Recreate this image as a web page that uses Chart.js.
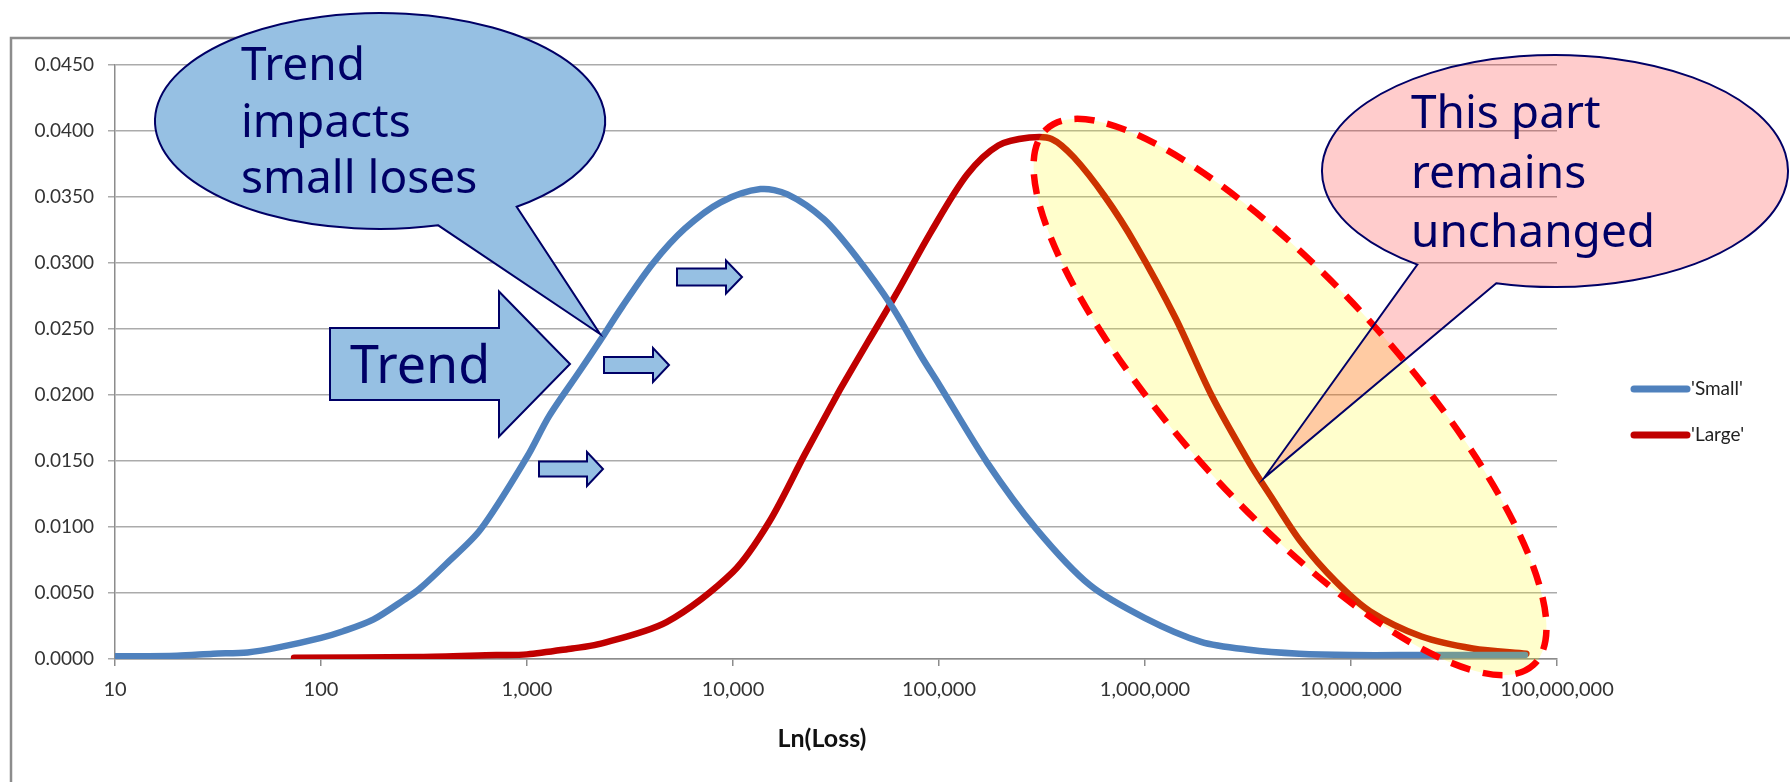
<!DOCTYPE html>
<html>
<head>
<meta charset="utf-8">
<script src="https://cdn.jsdelivr.net/npm/chart.js@4.4.1/dist/chart.umd.min.js"></script>
<style>
  html, body { margin: 0; padding: 0; background: #fff; }
  #wrap { width: 1790px; height: 782px; position: relative; }
</style>
</head>
<body>
<div id="wrap"><canvas id="lossChart"></canvas></div>
<script>
// series (loss on a log axis, density on the y axis)
const seriesNames = ["'Small'", "'Large'"];
const smallLoss = [10, 20, 30, 44, 63, 100, 128, 180, 254, 300, 405, 594, 1000, 1280, 1800, 2260, 2900, 4100, 5830, 8700, 13600, 18400, 27700, 40000, 58600, 83000, 100000, 171000, 295000, 540000, 1000000, 1870000, 3200000, 5600000, 10000000, 22000000, 70000000];
const smallDensity = [0.0002, 0.00025, 0.0004, 0.0005, 0.0009, 0.0016, 0.0021, 0.0030, 0.0045, 0.0053, 0.0072, 0.0098, 0.0153, 0.0184, 0.0218, 0.0241, 0.0267, 0.0300, 0.0326, 0.0346, 0.0356, 0.0352, 0.0333, 0.0304, 0.0268, 0.0228, 0.0208, 0.0149, 0.0099, 0.0056, 0.0031, 0.0013, 0.0007, 0.0004, 0.0003, 0.0003, 0.0003];
const largeLoss = [74, 300, 710, 1000, 1660, 2200, 4760, 10000, 15000, 22300, 30000, 33600, 45100, 61700, 91800, 137000, 194000, 275000, 352000, 452000, 641000, 900000, 1410000, 2100000, 3200000, 4050000, 5700000, 8400000, 12400000, 22000000, 39000000, 71000000];
const largeDensity = [0.0001, 0.00015, 0.0003, 0.00035, 0.0008, 0.0011, 0.0028, 0.0066, 0.0104, 0.0155, 0.0192, 0.0206, 0.0240, 0.0276, 0.0324, 0.0367, 0.0389, 0.0395, 0.0394, 0.0380, 0.0350, 0.0314, 0.0258, 0.0200, 0.0149, 0.0124, 0.0089, 0.0059, 0.0036, 0.0017, 0.0008, 0.0004];
const xTickValues = [10, 100, 1000, 10000, 100000, 1000000, 10000000, 100000000];
const yTickValues = [0, 0.005, 0.010, 0.015, 0.020, 0.025, 0.030, 0.035, 0.040, 0.045];
const xTitle = 'Ln(Loss)';

const seriesColors = ['#4F81BD', '#C00000'];
const NAVY = '#000066';
const TEXT_FONT = '"Noto Sans", "Open Sans", sans-serif';

function toPoints(xs, ys) {
  return xs.map((x, i) => ({ x: x, y: ys[i] }));
}

function bubble(ctx, cx, cy, rx, ry, a0, a1, tip, fill) {
  ctx.beginPath();
  ctx.ellipse(cx, cy, rx, ry, 0, a0 * Math.PI / 180, a1 * Math.PI / 180);
  ctx.lineTo(tip[0], tip[1]);
  ctx.closePath();
  ctx.fillStyle = fill;
  ctx.fill();
  ctx.lineWidth = 2;
  ctx.strokeStyle = NAVY;
  ctx.stroke();
}

function blockArrow(ctx, x0, x1, yc, bodyH, headH, headLen) {
  const xb = x1 - headLen;
  ctx.beginPath();
  ctx.moveTo(x0, yc - bodyH / 2);
  ctx.lineTo(xb, yc - bodyH / 2);
  ctx.lineTo(xb, yc - headH / 2);
  ctx.lineTo(x1, yc);
  ctx.lineTo(xb, yc + headH / 2);
  ctx.lineTo(xb, yc + bodyH / 2);
  ctx.lineTo(x0, yc + bodyH / 2);
  ctx.closePath();
  ctx.fillStyle = '#96C0E3';
  ctx.fill();
  ctx.lineWidth = 2;
  ctx.strokeStyle = NAVY;
  ctx.stroke();
}

function textLines(ctx, lines, x, baselines, size) {
  ctx.font = size + 'px ' + TEXT_FONT;
  ctx.fillStyle = NAVY;
  ctx.textAlign = 'left';
  ctx.textBaseline = 'alphabetic';
  lines.forEach((t, i) => ctx.fillText(t, x, baselines[i]));
}

const frame = {
  id: 'frame',
  beforeDraw(chart) {
    const ctx = chart.ctx;
    ctx.save();
    ctx.fillStyle = '#fff';
    ctx.fillRect(0, 0, chart.width, chart.height);
    ctx.strokeStyle = '#8C8C8C';
    ctx.lineWidth = 2.5;
    ctx.strokeRect(11, 38, 1800, 800);
    ctx.restore();
  }
};

const callouts = {
  id: 'callouts',
  afterDatasetsDraw(chart) {
    const ctx = chart.ctx;
    ctx.save();

    // highlighted tail of the large-loss curve
    ctx.beginPath();
    ctx.ellipse(1290, 397, 362, 110, 47.8 * Math.PI / 180, 0, Math.PI * 2);
    ctx.fillStyle = 'rgba(255, 252, 0, 0.2)';
    ctx.fill();
    ctx.setLineDash([20, 13]);
    ctx.lineWidth = 6.5;
    ctx.strokeStyle = '#FF0000';
    ctx.stroke();
    ctx.setLineDash([]);

    // left speech bubble
    bubble(ctx, 380, 121, 225, 108, 75, 412.6, [600, 334], '#96C0E3');
    textLines(ctx, ['Trend', 'impacts', 'small loses'], 241, [80, 137, 193], 46);

    // big trend arrow
    blockArrow(ctx, 330, 570, 364, 72, 145, 71);
    textLines(ctx, ['Trend'], 350, [383], 52);

    // small arrows
    blockArrow(ctx, 677, 742, 277, 17, 33, 16);
    blockArrow(ctx, 604, 669, 365, 16, 34, 16);
    blockArrow(ctx, 539, 603, 469, 15, 34, 16);

    // right speech bubble
    bubble(ctx, 1555, 171, 233, 116, 126.2, 464.6, [1264, 478], 'rgba(255, 0, 0, 0.2)');
    textLines(ctx, ['This part', 'remains', 'unchanged'], 1411, [128, 188, 247], 46);

    ctx.restore();
  },
  afterDraw(chart) {
    const ctx = chart.ctx;
    ctx.save();
    // axis title
    ctx.font = 'bold 25px Lato, sans-serif';
    ctx.fillStyle = '#111';
    ctx.textAlign = 'center';
    ctx.textBaseline = 'middle';
    ctx.fillText(xTitle, 822, 739);
    // legend at the right
    chart.data.datasets.forEach((ds, i) => {
      const y = 389 + i * 46;
      ctx.beginPath();
      ctx.moveTo(1634, y);
      ctx.lineTo(1687, y);
      ctx.lineWidth = 7;
      ctx.lineCap = 'round';
      ctx.strokeStyle = ds.borderColor;
      ctx.stroke();
      ctx.font = '19px Lato, sans-serif';
      ctx.fillStyle = '#222';
      ctx.textAlign = 'left';
      ctx.textBaseline = 'middle';
      ctx.fillText(ds.label, 1691, y);
    });
    ctx.restore();
  }
};

function lineSeries(i, xs, ys) {
  return {
    label: seriesNames[i],
    data: toPoints(xs, ys),
    borderColor: seriesColors[i],
    backgroundColor: seriesColors[i],
    borderWidth: 6.5,
    pointRadius: 0,
    tension: 0.3,
    borderCapStyle: 'round',
    borderJoinStyle: 'round',
    fill: false
  };
}

new Chart(document.getElementById('lossChart'), {
  type: 'line',
  data: {
    datasets: [
      lineSeries(0, smallLoss, smallDensity),
      lineSeries(1, largeLoss, largeDensity)
    ]
  },
  options: {
    responsive: true,
    maintainAspectRatio: false,
    animation: false,
    layout: {
      padding: { left: 0, top: 65, right: 233, bottom: 0 }
    },
    plugins: {
      legend: { display: false },
      tooltip: { enabled: false }
    },
    scales: {
      x: {
        type: 'logarithmic',
        min: 10,
        max: 100000000,
        afterBuildTicks: (axis) => {
          axis.ticks = xTickValues.map(v => ({ value: v }));
        },
        afterFit: (axis) => { axis.height = 123; },
        ticks: {
          autoSkip: false,
          maxRotation: 0,
          padding: 12,
          color: '#333',
          font: { family: 'Lato', size: 20 },
          callback: (v) => Number(v).toLocaleString('en-US')
        },
        grid: {
          drawOnChartArea: false,
          drawTicks: true,
          tickLength: 7,
          color: '#8C8C8C',
          lineWidth: 1.5
        },
        border: { display: true, color: '#8C8C8C', width: 1.5 }
      },
      y: {
        min: 0,
        max: 0.045,
        afterBuildTicks: (axis) => {
          axis.ticks = yTickValues.map(v => ({ value: v }));
        },
        afterFit: (axis) => { axis.width = 115; },
        ticks: {
          padding: 14,
          color: '#333',
          font: { family: 'Lato', size: 19 },
          callback: (v) => Number(v).toFixed(4)
        },
        grid: {
          color: '#ABABAB',
          lineWidth: 1.5,
          tickLength: 7
        },
        border: { display: true, color: '#8C8C8C', width: 1.5 }
      }
    }
  },
  plugins: [frame, callouts]
});
</script>
</body>
</html>
